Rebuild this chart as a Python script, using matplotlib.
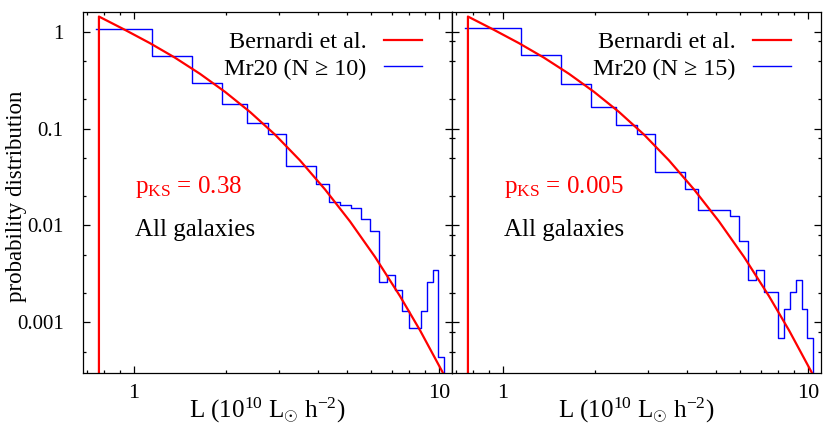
import matplotlib
matplotlib.use('Agg')
import matplotlib.pyplot as plt
from matplotlib.lines import Line2D
from matplotlib.ticker import LogLocator, FuncFormatter, NullFormatter

plt.rcParams['font.family'] = ['Liberation Serif', 'DejaVu Serif']
plt.rcParams['mathtext.fontset'] = 'custom'
plt.rcParams['mathtext.rm'] = 'Liberation Serif'
plt.rcParams['mathtext.it'] = 'Liberation Serif:italic'
plt.rcParams['mathtext.default'] = 'rm'

# histogram bin edges (10^10 Lsun h^-2)
bin_edges = [0.75, 1.15, 1.55, 1.95, 2.35, 2.75, 3.15, 3.55, 3.95, 4.35, 4.75,
             5.15, 5.55, 5.95, 6.35, 6.75, 7.15, 7.55, 7.95, 8.35, 8.75,
             9.15, 9.55, 9.95, 10.35]

# Mr20, N >= 10
hist_n10 = [1.066, 0.567, 0.297, 0.178, 0.115, 0.0888, 0.041, 0.041, 0.0268,
            0.0175, 0.0162, 0.0152, 0.0117, 0.0088, 0.00261, 0.00305, 0.00218,
            0.00132, 0.00088, 0.00088, 0.00132, 0.00261, 0.0035, 0.000443]

# Mr20, N >= 15
hist_n15 = [1.09, 0.576, 0.29, 0.1667, 0.11, 0.0888, 0.0358, 0.0354, 0.0236,
            0.01446, 0.01446, 0.01446, 0.01256, 0.00695, 0.00276, 0.00344,
            0.00206, 0.00206, 0.000695, 0.00138, 0.00206, 0.00276, 0.00138,
            0.000695]

# Bernardi et al. curve
fit_L = [0.768, 0.768, 0.934, 1.128, 1.363, 1.646, 1.988, 2.401, 2.900, 3.502,
         4.229, 5.108, 6.169, 7.449, 8.664, 10.41]
fit_p = [0.0, 1.436, 1.048, 0.7636, 0.5405, 0.3683, 0.2401, 0.1488, 0.0868,
         0.0470, 0.0236, 0.01102, 0.00474, 0.001866, 0.000828, 0.000283]

panel_labels = ['Mr20 (N \u2265 10)', 'Mr20 (N \u2265 15)']
pks_texts = [r'p$_{\rm KS}$ = 0.38', r'p$_{\rm KS}$ = 0.005']

fig = plt.figure(figsize=(8.3, 4.36), dpi=100)
ax1 = fig.add_axes([83/830, 63/436, 369/830, 361/436])
ax2 = fig.add_axes([452/830, 63/436, 369/830, 361/436])


def draw_panel(ax, hist, label, pks, first):
    ax.set_xscale('log')
    ax.set_yscale('log', nonpositive='clip')
    ax.step(bin_edges, list(hist) + [0.0], where='post', color='blue', lw=1.0)
    ax.plot(fit_L, fit_p, color='red', lw=1.6)
    ax.set_xlim(0.681, 11.03)
    ax.set_ylim(3.0e-4, 1.6)

    # ticks
    fmt = FuncFormatter(lambda v, pos: '%g' % v)
    ax.xaxis.set_major_locator(LogLocator(base=10, subs=(1.0,)))
    ax.xaxis.set_minor_locator(LogLocator(base=10, subs=range(2, 10)))
    ax.xaxis.set_major_formatter(fmt)
    ax.xaxis.set_minor_formatter(NullFormatter())
    ax.yaxis.set_major_locator(LogLocator(base=10, subs=(1.0,)))
    ax.yaxis.set_minor_formatter(NullFormatter())
    if first:
        ax.yaxis.set_minor_locator(LogLocator(base=10, subs=(2, 5)))
        ax.yaxis.set_major_formatter(fmt)
        ax.tick_params(axis='y', which='both', right=False)
        sec = ax.secondary_yaxis('right')
        sec.yaxis.set_major_locator(LogLocator(base=10, subs=(1.0,)))
        sec.yaxis.set_minor_locator(LogLocator(base=10, subs=(2, 5, 8)))
        sec.yaxis.set_major_formatter(NullFormatter())
        sec.yaxis.set_minor_formatter(NullFormatter())
        sec.tick_params(which='both', direction='in', width=0.9)
        sec.tick_params(which='major', length=5)
        sec.tick_params(which='minor', length=2.5)
        sec.spines['right'].set_linewidth(0.9)
    else:
        ax.yaxis.set_minor_locator(LogLocator(base=10, subs=(2, 5, 8)))
        ax.yaxis.set_major_formatter(NullFormatter())
        ax.tick_params(axis='y', which='both', right=True)
    ax.tick_params(axis='x', which='both', top=True)
    ax.tick_params(which='both', direction='in', width=0.9)
    ax.tick_params(which='major', length=5)
    ax.tick_params(which='minor', length=2.5)
    ax.tick_params(axis='x', pad=8, labelsize=16)
    ax.tick_params(axis='y', pad=14, labelsize=15)
    for s in ax.spines.values():
        s.set_linewidth(0.9)

    ax.set_xlabel(r'L (10$^{10}$ L$_{\odot}$ h$^{-2}$)', fontsize=18)
    ax.xaxis.set_label_coords(0.5, -0.062)

    handles = [Line2D([], [], color='red', lw=1.6),
               Line2D([], [], color='blue', lw=1.0)]
    ax.legend(handles, ['Bernardi et al.', label], loc='upper right',
              bbox_to_anchor=(0.918, 0.947), frameon=False, fontsize=17.4,
              markerfirst=False, handlelength=1.55, handletextpad=0.74,
              labelspacing=0.2, borderpad=0, borderaxespad=0)

    ax.text(0.14, 0.4986, pks, transform=ax.transAxes, color='red',
            fontsize=18, ha='left', va='baseline')
    ax.text(0.14, 0.3795, 'All galaxies', transform=ax.transAxes,
            color='black', fontsize=18, ha='left', va='baseline')


draw_panel(ax1, hist_n10, panel_labels[0], pks_texts[0], True)
draw_panel(ax2, hist_n15, panel_labels[1], pks_texts[1], False)

ax1.set_ylabel('probability distribution', fontsize=16.5)
ax1.yaxis.set_label_coords(-0.153, 0.49)

fig.savefig('out.png', dpi=100)
